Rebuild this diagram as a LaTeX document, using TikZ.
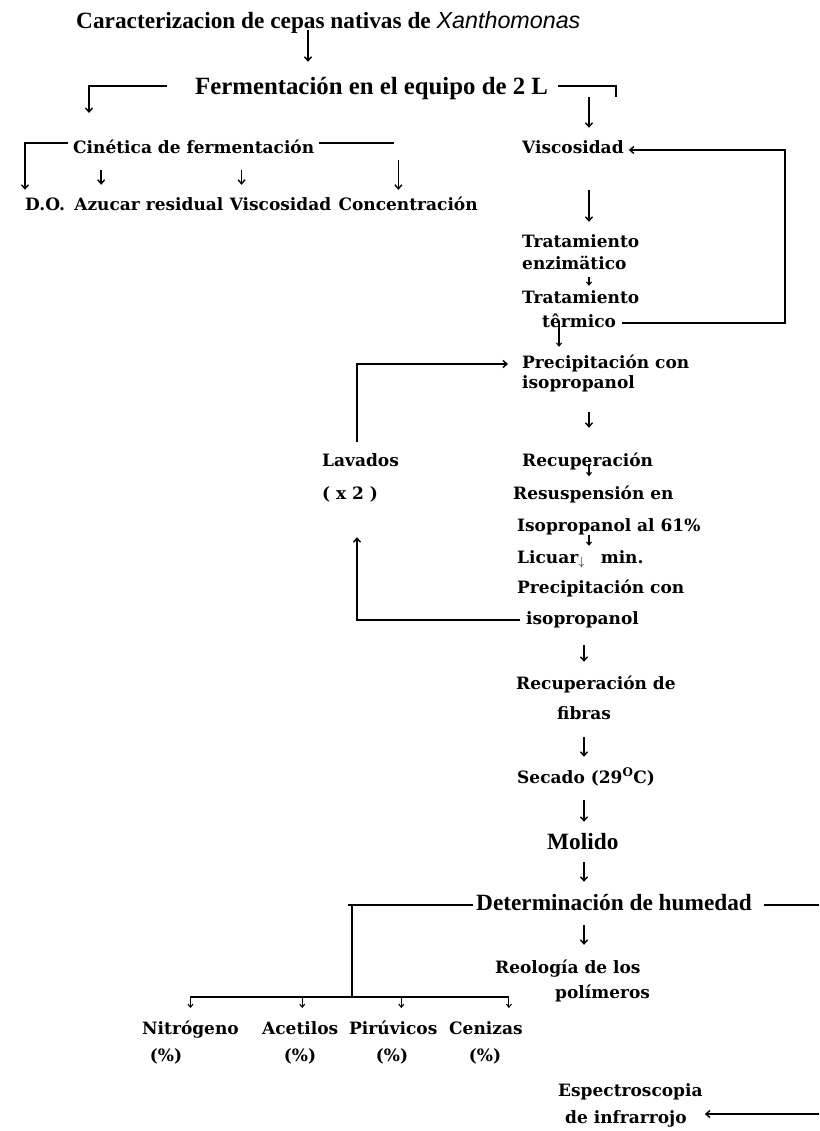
\documentclass[tikz,border=0pt]{standalone}
\usepackage{fontspec}
\setmainfont{DejaVu Serif}
\newfontfamily\estrecha{Liberation Serif}
\newfontfamily\cursiva{Liberation Sans}
\usetikzlibrary{positioning, arrows.meta, calc}

\tikzset{
  paso/.style={font=\bfseries\fontsize{17}{20}\selectfont, inner sep=0pt,
    anchor=base west, text height=12pt, text depth=4pt},
  titulo/.style={font=\estrecha\bfseries\fontsize{23.3}{26}\selectfont, inner sep=0pt,
    anchor=base west, text height=15pt, text depth=5pt},
  flecha/.style={-{Straight Barb[length=4pt,width=7pt]}, line width=1.4pt},
  flechita/.style={-{Straight Barb[length=3pt,width=5pt]}, line width=1.1pt},
  linea/.style={line width=1.4pt},
}

\begin{document}
\begin{tikzpicture}[x=1pt, y=-1pt]
  \useasboundingbox (0,0) rectangle (819,1131);
  \fill[white] (0,0) rectangle (819,1131);
  % === Ejes de las flechas ===
  \coordinate (ejeA) at (308,0);
  \coordinate (eje) at (589,0);
  \coordinate (ejeb) at (584,0);
  \coordinate (borde) at (819,0);
  % === Cabecera ===
  \node[titulo] (carac) at (76,29) {Caracterizacion de cepas nativas de {\cursiva\mdseries\itshape Xanthomonas}};
  \node[titulo, font=\estrecha\bfseries\fontsize{24.8}{26}\selectfont] (ferm) at (195,95) {Fermentación en el equipo de 2 L};
  \draw[flecha, shorten <=-4pt, shorten >=18pt] (carac.south -| ejeA) -- (ferm.north -| ejeA);
  % ramas de la fermentacion
  \coordinate (fermizq) at (89,113);
  \coordinate (fermder) at (616,97);
  \draw[flecha] ([xshift=-28pt,yshift=4pt]ferm.west) -| (fermizq);
  \draw[linea] ([xshift=10pt,yshift=4pt]ferm.east) -| (fermder);
  % === Cinetica (izquierda) ===
  \node[paso] (cin) at (73,154) {Cinética de fermentación};
  \node[paso] (do) at (25,211) {D.O.};
  \node[paso, right=9pt of do] (azuc) {Azucar residual};
  \node[paso, right=6pt of azuc] (viscb) {Viscosidad};
  \node[paso, right=7pt of viscb] (conc) {Concentración};
  \coordinate (concx) at ([xshift=60pt,yshift=9pt]conc.north west);
  \draw[flecha] ([xshift=-5pt,yshift=7pt]cin.west) -| ([yshift=9pt]do.north west);
  \draw[linea] ([xshift=5pt,yshift=7pt]cin.east) -- ([xshift=-4pt,yshift=7pt]cin.east -| concx);
  \draw[flecha] ([yshift=-10pt]cin.east -| concx) -- (concx);
  \draw[flecha] ([xshift=27pt,yshift=29pt]azuc.north west) -- ([xshift=27pt,yshift=14pt]azuc.north west);
  \draw[flecha] ([xshift=12pt,yshift=29pt]viscb.north west) -- ([xshift=12pt,yshift=14pt]viscb.north west);
  % === Columna derecha: tratamientos ===
  \node[paso] (visc) at (522,154) {Viscosidad};
  \draw[flecha, shorten >=14pt] (fermder -| eje) -- (visc.north -| eje);
  \node[paso] (enz1) at (522,248) {Tratamiento};
  \node[paso] (enz2) at (522,270) {enzimätico};
  \node[paso] (term1) at (522,304) {Tratamiento};
  \node[paso] (term2) at (542,327) {têrmico};
  \draw[flecha, shorten <=32pt, shorten >=14pt] (visc.south -| eje) -- (enz1.north -| eje);
  \draw[flechita, shorten <=3pt, shorten >=6pt] (enz2.south -| eje) -- (term1.north -| eje);
  % lazo de regreso a viscosidad
  \coordinate (lazo) at (785,150);
  \draw[flecha, shorten >=5pt] ([xshift=6pt]term2.east) -| (lazo) -- (visc.east);
  \draw[flechita] ([xshift=17pt,yshift=-6pt]term2.north west) -- ++(0,26);
  % === Precipitacion y lavados ===
  \node[paso] (prec1) at (522,368) {Precipitación con};
  \node[paso] (prec1b) at (522,388) {isopropanol};
  \node[paso] (recup) at (522,466) {Recuperación};
  \node[paso] (lav) at (322,466) {Lavados};
  \node[paso] (veces) at (322,499) {( x 2 )};
  \draw[flecha, shorten <=20pt, shorten >=26pt] (prec1b.south -| eje) -- (recup.north -| eje);
  \draw[flechita] (recup.south -| eje) ++(0,-6) -- ++(0,12);
  \draw[flecha] ([xshift=35pt,yshift=12pt]lav.north west) |- ([xshift=-14pt]prec1.west);
  \node[paso] (resus) at (513,499) {Resuspensión en};
  \node[paso] (iso) at (517,531) {Isopropanol al 61\%};
  \node[paso] (lic) at (517,563) {Licuar\textsubscript{$\downarrow$}\hspace{16pt}min.};
  \node[paso] (prec2) at (517,593) {Precipitación con};
  \node[paso] (isop2) at (526,624) {isopropanol};
  \draw[flechita, shorten >=5pt] (iso.south -| eje) -- (lic.north -| eje);
  \draw[flecha] ([xshift=-6pt]isop2.west) -| ([xshift=35pt,yshift=-34pt]veces.south west);
  % === Recuperacion de fibras hasta humedad ===
  \node[paso] (recfib) at (516,689) {Recuperación de};
  \node[paso] (fibras) at (557,719) {fibras};
  \node[paso] (secado) at (517,783) {Secado (29\textsuperscript{O}C)};
  \node[titulo] (molido) at (547,849) {Molido};
  \node[titulo] (deter) at (476,910) {Determinación de humedad};
  \draw[flecha, shorten <=17pt, shorten >=15pt] (isop2.south -| ejeb) -- (recfib.north -| ejeb);
  \draw[flecha, shorten <=14pt, shorten >=14pt] (fibras.south -| ejeb) -- (secado.north -| ejeb);
  \draw[flecha, shorten <=13pt, shorten >=12pt] (secado.south -| ejeb) -- (molido.north -| ejeb);
  \draw[flecha, shorten <=8pt, shorten >=13pt] (molido.south -| ejeb) -- (deter.north -| ejeb);
  % === Analisis de humedad ===
  \coordinate (rama) at (352,997);
  \draw[linea] ([xshift=-3pt]deter.west) -- ++(-125,0);
  \draw[linea] (deter.west -| rama) -- (rama);
  \draw[linea] ([xshift=12pt]deter.east) -- (deter.east -| borde);
  \node[paso] (nitro) at (142,1034) {Nitrógeno};
  \node[paso] (acet) at (262,1034) {Acetilos};
  \node[paso] (piru) at (349,1034) {Pirúvicos};
  \node[paso] (ceni) at (449,1034) {Cenizas};
  \node[paso, anchor=base] (pnitro) at (166,1061) {(\%)};
  \node[paso, anchor=base] (pacet) at (300,1061) {(\%)};
  \node[paso, anchor=base] (ppiru) at (392,1061) {(\%)};
  \node[paso, anchor=base] (pceni) at (485,1061) {(\%)};
  \draw[linea] (rama -| nitro.north) -- ([xshift=23pt]rama -| ceni.north);
  \draw[flechita] (rama -| nitro.north) -- ++(0,11);
  \draw[flechita] ([xshift=2pt]rama -| acet.north) -- ++(0,11);
  \draw[flechita] ([xshift=8pt]rama -| piru.north) -- ++(0,11);
  \draw[flechita] ([xshift=23pt]rama -| ceni.north) -- ++(0,11);
  % === Reologia y espectroscopia ===
  \node[paso] (reol) at (495,973) {Reología de los};
  \node[paso] (polim) at (555,998) {polímeros};
  \node[paso] (espec) at (558,1096) {Espectroscopia};
  \node[paso] (infra) at (565,1123) {de infrarrojo};
  \draw[flecha, shorten <=10pt, shorten >=16pt] (deter.south -| ejeb) -- (reol.north -| ejeb);
  \draw[flecha] ([yshift=5pt]infra.east -| borde) -- ([xshift=18pt,yshift=5pt]infra.east);
\end{tikzpicture}
\end{document}
